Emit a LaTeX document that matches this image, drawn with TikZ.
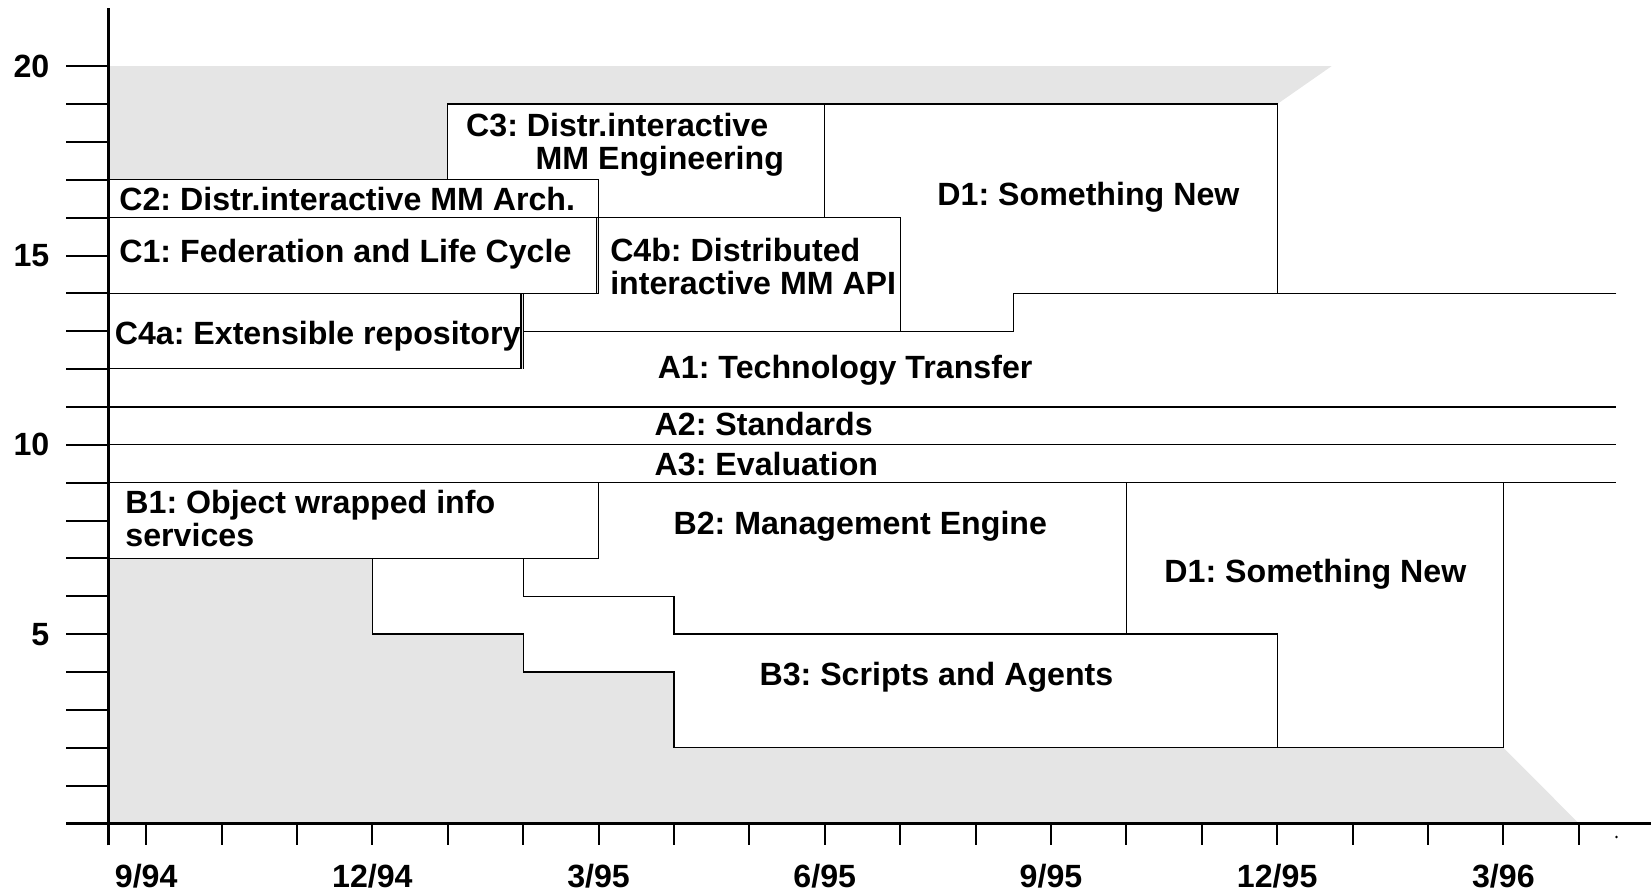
\documentclass[tikz,border=0pt]{standalone}
\usepackage{fontspec}
\setsansfont{Liberation Sans}
\usepackage{tikz}
\frenchspacing

\begin{document}
\begin{tikzpicture}[x=1.434cm,y=0.72cm,
font=\bfseries\sffamily\fontsize{17.4}{17.8}\selectfont,
box/.style={draw,fill=white,line width=0.7pt},
lbl/.style={inner sep=0pt,anchor=base west,align=left},
axis/.style={line width=1.7pt},
tick/.style={line width=1.1pt}]
    \useasboundingbox (-1.9386,-1.9167) rectangle (19.958,21.75);

    % Grey background
    \fill[gray!20] (-0.5,0) -- (-0.5,20) -- (15.72,20) -- (15,19) -- (15,9)
        -- (18,9) -- (18,2) -- (19,0) -- cycle;

    % C and D1 boxes
    \draw[box] (4,16) rectangle (9,19);
    \draw[box] (-0.5,16) rectangle (6,17);
    \draw[box] (-0.5,14) rectangle (5.97,16);
    \draw[box] (-0.5,12) rectangle (4.97,14);
    \draw[box] (6,16) -- (10,16) -- (10,13) -- (5,13) -- (5,14) -- (6,14) -- cycle;
    \draw[box] (9,19) -- (15,19) -- (15,14) -- (11.5,14) -- (11.5,13) -- (10,13)
        -- (10,16) -- (9,16) -- cycle;

    % A rows
    \fill[white] (-0.5,9) -- (19.5,9) -- (19.5,14) -- (11.5,14) -- (11.5,13)
        -- (5,13) -- (5,12) -- (-0.5,12) -- cycle;
    \draw[line width=0.7pt] (19.5,14) -- (11.5,14) -- (11.5,13) -- (5,13) -- (5,12);
    \foreach \v in {9,10,11}
        \draw[line width=0.7pt] (-0.5,\v) -- (19.5,\v);

    % B and D1 boxes
    \draw[box] (-0.5,7) rectangle (6,9);
    \draw[box] (6,9) -- (13,9) -- (13,5) -- (7,5) -- (7,6) -- (5,6) -- (5,7)
        -- (6,7) -- cycle;
    \draw[box] (3,7) -- (5,7) -- (5,6) -- (7,6) -- (7,5) -- (15,5) -- (15,2)
        -- (7,2) -- (7,4) -- (5,4) -- (5,5) -- (3,5) -- cycle;
    \draw[box] (13,9) -- (18,9) -- (18,2) -- (15,2) -- (15,5) -- (13,5) -- cycle;

    % Labels (two-line labels sit on their last line)
    \node[lbl] (c3) at (4.24,17.28) {C3: Distr.interactive\\\hspace*{1.32cm}MM Engineering};
    \node[lbl] (c2) at (-0.36,16.19) {C2: Distr.interactive MM Arch.};
    \node[lbl] (c1) at (-0.36,14.81) {C1: Federation and Life Cycle};
    \node[lbl] (c4b) at (6.15,13.97) {C4b: Distributed\\interactive MM API};
    \node[lbl] (d1top) at (10.49,16.33) {D1: Something New};
    \node[lbl] (c4a) at (-0.42,12.64) {C4a: Extensible repository};
    \node[lbl] (a1) at (6.78,11.75) {A1: Technology Transfer};
    \node[lbl] (a2) at (6.74,10.25) {A2: Standards};
    \node[lbl] (a3) at (6.74,9.19) {A3: Evaluation};
    \node[lbl] (b1) at (-0.28,7.31) {B1: Object wrapped info\\services};
    \node[lbl] (b2) at (6.99,7.64) {B2: Management Engine};
    \node[lbl] (d1low) at (13.5,6.36) {D1: Something New};
    \node[lbl] (b3) at (8.13,3.64) {B3: Scripts and Agents};

    % Draw axes
    \draw[axis] (-0.5,-0.58) -- (-0.5,21.53);
    \draw[axis] (-1.06,0) -- (19.958,0);
    \foreach \v in {1,...,20}
        \draw[tick] (-1.06,\v) -- (-0.5,\v);
    \foreach \m in {0,...,19}
        \draw[tick] (\m,0) -- (\m,-0.58);
    \fill (19.5,-0.36) circle (0.7pt);
    \foreach \v in {5,10,15,20}
        \node[inner sep=0pt,anchor=east] (y\v) at (-1.28,\v) {\v};
    \foreach \m/\t in {0/{9/94},3/{12/94},6/{3/95},9/{6/95},12/{9/95},15/{12/95},18/{3/96}}
        \node[inner sep=0pt,anchor=base] (x\m) at (\m,-1.69) {\t};
\end{tikzpicture}
\end{document}
